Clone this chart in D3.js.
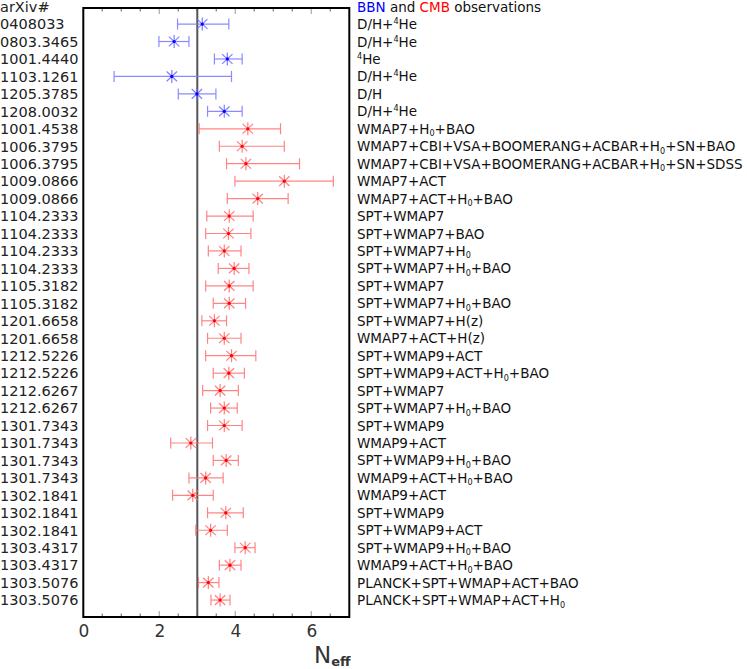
<!DOCTYPE html>
<html><head><meta charset="utf-8">
<script src="https://cdn.jsdelivr.net/npm/d3@7"></script>
<style>body{margin:0;background:#fff}svg{display:block}text{font-family:"DejaVu Sans",sans-serif}</style>
</head><body><svg id="c" width="747" height="669"></svg>
<script>
const arxiv = ["0408033","0803.3465","1001.4440","1103.1261","1205.3785","1208.0032",
"1001.4538","1006.3795","1006.3795","1009.0866","1009.0866","1104.2333","1104.2333","1104.2333","1104.2333",
"1105.3182","1105.3182","1201.6658","1201.6658","1212.5226","1212.5226","1212.6267","1212.6267",
"1301.7343","1301.7343","1301.7343","1301.7343","1302.1841","1302.1841","1302.1841","1303.4317","1303.4317","1303.5076","1303.5076"];
const datasets = ["D/H+^4He","D/H+^4He","^4He","D/H+^4He","D/H","D/H+^4He",
"WMAP7+H_0+BAO","WMAP7+CBI+VSA+BOOMERANG+ACBAR+H_0+SN+BAO","WMAP7+CBI+VSA+BOOMERANG+ACBAR+H_0+SN+SDSS",
"WMAP7+ACT","WMAP7+ACT+H_0+BAO","SPT+WMAP7","SPT+WMAP7+BAO","SPT+WMAP7+H_0","SPT+WMAP7+H_0+BAO",
"SPT+WMAP7","SPT+WMAP7+H_0+BAO","SPT+WMAP7+H(z)","WMAP7+ACT+H(z)","SPT+WMAP9+ACT","SPT+WMAP9+ACT+H_0+BAO",
"SPT+WMAP7","SPT+WMAP7+H_0+BAO","SPT+WMAP9","WMAP9+ACT","SPT+WMAP9+H_0+BAO","WMAP9+ACT+H_0+BAO",
"WMAP9+ACT","SPT+WMAP9","SPT+WMAP9+ACT","SPT+WMAP9+H_0+BAO","WMAP9+ACT+H_0+BAO",
"PLANCK+SPT+WMAP+ACT+BAO","PLANCK+SPT+WMAP+ACT+H_0"];
const kind = ["BBN","BBN","BBN","BBN","BBN","BBN"].concat(Array(28).fill("CMB"));
const neff = [3.13,2.39,3.79,2.33,2.99,3.71,4.33,4.18,4.28,5.29,4.59,3.84,3.82,3.71,3.97,3.84,3.84,3.45,3.71,3.90,3.83,3.60,3.71,3.71,2.83,3.76,3.22,2.88,3.75,3.35,4.26,3.86,3.29,3.60];
const lower = [2.48,1.99,3.45,0.81,2.50,3.27,3.05,3.58,3.77,3.99,3.79,3.25,3.22,3.29,3.55,3.22,3.42,3.12,3.27,3.22,3.42,3.14,3.35,3.27,2.30,3.42,2.78,2.35,3.27,2.96,3.99,3.58,3.03,3.36];
const upper = [3.83,2.78,4.18,3.90,3.49,4.18,5.19,5.29,5.69,6.58,5.39,4.47,4.41,4.15,4.36,4.47,4.27,3.77,4.15,4.54,4.24,4.08,4.05,4.18,3.40,4.08,3.68,3.42,4.21,3.79,4.52,4.15,3.57,3.86];
const xTicks = [0,2,4,6];
const refNeff = 3;

const svg = d3.select("#c");
const x = d3.scaleLinear().domain([0,7]).range([83.3,349.3]);
const y = d3.scaleLinear().domain([-0.92,33.97]).range([8,617]);
const col = {BBN:{bar:"#7777ff",mk:"#6a6aff",dot:"#0000ff"}, CMB:{bar:"#ff7070",mk:"#ff6a6a",dot:"#ff0000"}};

// ticks (top and bottom, inside)
d3.range(0.5,7,0.5).forEach(v=>{
  const major = (v%2===0);
  const len = major?6:3.5;
  const c = major?"#b0b0b0":"#888";
  [[617,-1],[8,1]].forEach(([yy,s])=>{
    svg.append("line").attr("x1",x(v)).attr("x2",x(v)).attr("y1",yy).attr("y2",yy+s*len)
      .attr("stroke",c).attr("stroke-width",1.3);
  });
});

// reference line
svg.append("line").attr("x1",x(refNeff)).attr("x2",x(refNeff)).attr("y1",y(-0.92)).attr("y2",y(33.97))
  .attr("stroke","#555").attr("stroke-width",2);

// error bars and markers
const g = svg.append("g");
neff.forEach((v,i)=>{
  const c = col[kind[i]], yy = y(i);
  const gg = g.append("g").attr("opacity",0.85);
  gg.append("line").attr("x1",x(lower[i])).attr("x2",x(upper[i])).attr("y1",yy).attr("y2",yy).attr("stroke",c.bar).attr("stroke-width",1.2);
  [lower[i],upper[i]].forEach(e=>gg.append("line").attr("x1",x(e)).attr("x2",x(e)).attr("y1",yy-5.5).attr("y2",yy+5.5).attr("stroke",c.bar).attr("stroke-width",1.2));
  const cx = x(v), r = 6.5;
  [[0,-r,0,r],[-r*0.8,-r*0.75,r*0.8,r*0.75],[-r*0.8,r*0.75,r*0.8,-r*0.75]].forEach(d=>{
    gg.append("line").attr("x1",cx+d[0]).attr("y1",yy+d[1]).attr("x2",cx+d[2]).attr("y2",yy+d[3]).attr("stroke",c.mk).attr("stroke-width",1.2);
  });
  g.append("circle").attr("cx",cx).attr("cy",yy).attr("r",1.6).attr("fill",c.dot);
});

// frame
svg.append("rect").attr("x",x(0)).attr("y",y(-0.92)).attr("width",x(7)-x(0)).attr("height",y(33.97)-y(-0.92))
  .attr("fill","none").attr("stroke","#000").attr("stroke-width",2);

// left labels
const LFS = 14.5;
svg.append("text").attr("x",0).attr("y",y(-0.92)+4).attr("font-size",LFS).attr("fill","#222").text("arXiv#");
arxiv.forEach((a,i)=>svg.append("text").attr("x",0).attr("y",y(i)+5.3).attr("font-size",LFS).attr("fill","#222").text(a));

// right labels with sub/superscripts (baseline-based)
const RFS = 13.5;
function rich(t, xx, yy, fs){
  const txt = svg.append("text").attr("x",xx).attr("y",yy).attr("font-size",fs).attr("fill","#111");
  const parts = t.split(/(\^4|_0)/);
  let pending = 0;
  parts.forEach(p=>{
    if(!p) return;
    if(p==="^4"){ txt.append("tspan").attr("font-size",fs*0.6).attr("dy",pending-5).text("4"); pending = 5; }
    else if(p==="_0"){ txt.append("tspan").attr("font-size",fs*0.6).attr("dy",pending+2.5).text("0"); pending = -2.5; }
    else { txt.append("tspan").attr("dy",pending).text(p); pending = 0; }
  });
}
const t0 = svg.append("text").attr("x",357).attr("y",y(-0.92)+4).attr("font-size",RFS);
t0.append("tspan").attr("fill","#0000ff").text("BBN");
t0.append("tspan").attr("fill","#111").text(" and ");
t0.append("tspan").attr("fill","#ff0000").text("CMB");
t0.append("tspan").attr("fill","#111").text(" observations");
datasets.forEach((d,i)=>rich(d,357,y(i)+5,RFS));

// x axis tick labels
const ax = d3.axisBottom(x).tickValues(xTicks).tickSize(0).tickPadding(0).tickFormat(d3.format("d"));
const axg = svg.append("g").attr("transform","translate(0,625)").call(ax);
axg.select(".domain").remove();
axg.selectAll("text").attr("font-size",17).attr("fill","#333").attr("font-family","DejaVu Sans");

// axis title
const tt = svg.append("text").attr("x",314).attr("y",663).attr("font-size",23).attr("fill","#333");
tt.append("tspan").text("N");
tt.append("tspan").attr("font-size",13).attr("dy",3).attr("font-weight","bold").text("eff");
</script></body></html>
